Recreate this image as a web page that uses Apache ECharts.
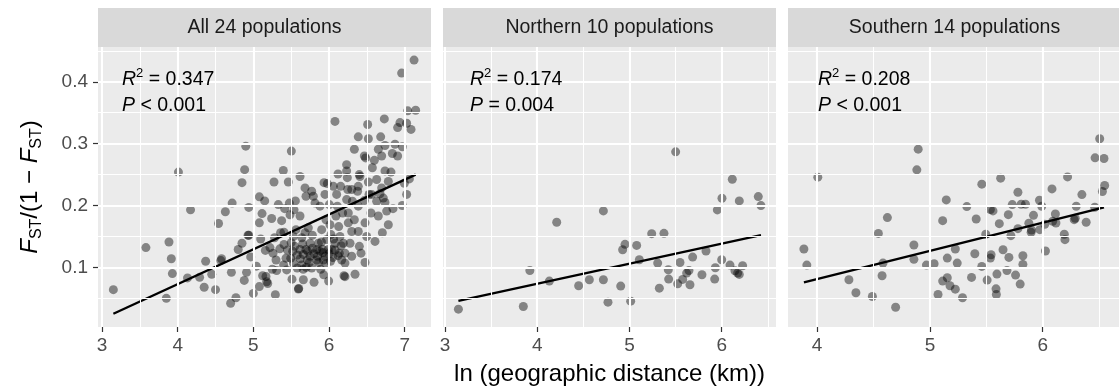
<!DOCTYPE html>
<html><head><meta charset="utf-8">
<script src="https://cdn.jsdelivr.net/npm/echarts@6/dist/echarts.min.js"></script>
<style>html,body{margin:0;padding:0;background:#fff}#c{width:1119px;height:392px}</style>
</head><body><div id="c"></div>
<script>
// ---------------- DATA ----------------
const panelTitles = ['All 24 populations', 'Northern 10 populations', 'Southern 14 populations'];
const statsR2 = ['0.347', '0.174', '0.208'];
const statsP = ['< 0.001', '= 0.004', '< 0.001'];
const xTickLabels = [[3, 4, 5, 6, 7], [3, 4, 5, 6], [4, 5, 6]];
const yTickLabels = [0.1, 0.2, 0.3, 0.4];
const xTitle = 'ln (geographic distance (km))';

const allPts = [
 [3.15,0.064],[3.58,0.132],[3.85,0.050],[3.885,0.141],[3.916,0.114],[3.93,0.090],[4.01,0.254],[4.13,0.083],[4.17,0.193],[4.29,0.084],
 [4.35,0.068],[4.37,0.110],[4.45,0.089],[4.50,0.064],[4.54,0.171],[4.57,0.111],[4.58,0.114],[4.63,0.190],[4.70,0.042],[4.71,0.092],
 [4.72,0.204],[4.77,0.051],[4.80,0.129],[4.85,0.237],[4.85,0.139],[4.88,0.079],[4.885,0.258],[4.90,0.296],[4.91,0.092],[4.94,0.197],
 [4.94,0.152],[4.93,0.152],[4.965,0.117],[5.00,0.058],
 [5.04,0.102],[5.079,0.069],[5.079,0.214],[5.15,0.2075],[5.115,0.187],[5.079,0.172],[5.097,0.146],[5.159,0.1275],[5.167,0.0854],[5.176,0.0768],
 [5.123,0.0865],[5.242,0.179],[5.273,0.238],[5.291,0.056],[5.30,0.112],[5.308,0.095],[5.33,0.2015],[5.374,0.1756],[5.396,0.2566],[5.405,0.137],
 [5.405,0.157],[5.414,0.195],[5.432,0.115],[5.441,0.096],[5.462,0.238],[5.476,0.204],[5.485,0.185],[5.494,0.115],[5.502,0.288],[5.511,0.081],
 [5.529,0.150],[5.538,0.193],[5.547,0.134],[5.556,0.2075],[5.564,0.161],[5.595,0.065],[5.617,0.247],[5.617,0.183],[5.617,0.129],[5.639,0.104],
 [5.652,0.138],[5.661,0.080],[5.683,0.2285],[5.683,0.156],[5.696,0.215],[5.696,0.129],[5.714,0.112],[5.727,0.164],[5.749,0.139],[5.771,0.223],
 [5.771,0.099],[5.793,0.215],[5.802,0.076],[5.815,0.204],[5.837,0.129],[5.837,0.112],[5.859,0.139],[5.881,0.199],[5.89,0.097],[5.903,0.161],
 [5.916,0.129],[5.925,0.112],[5.934,0.237],[5.947,0.218],[5.96,0.177],[5.969,0.145],[5.978,0.2355],[5.991,0.129],[5.995,0.078],[6.004,0.2015],
 [6.013,0.169],[6.026,0.153],[6.035,0.129],[6.057,0.231],[6.079,0.336],[6.079,0.139],[6.092,0.183],[6.101,0.218],[6.11,0.199],[6.119,0.251],
 [6.128,0.166],[6.136,0.123],[6.145,0.150],[6.154,0.231],[6.167,0.112],[6.18,0.188],[6.189,0.139],[6.198,0.0865],[6.233,0.2096],[6.255,0.172],
 [5.19,0.074],[5.60,0.066],
 [5.35,0.130],[5.45,0.128],[5.50,0.140],[5.58,0.120],[5.62,0.114],[5.66,0.121],[5.72,0.126],[5.75,0.118],[5.78,0.131],[5.80,0.122],
 [5.85,0.118],[5.88,0.126],[5.92,0.124],[5.95,0.118],[6.00,0.122],[6.05,0.116],[6.08,0.128],[6.12,0.119],[5.53,0.107],[5.58,0.099],
 [5.70,0.100],[5.74,0.108],[5.86,0.108],[5.96,0.106],[6.02,0.110],[5.26,0.123],[5.22,0.132],[5.28,0.148],[5.36,0.156],[5.64,0.148],
 [5.78,0.152],[5.90,0.141],[6.06,0.146],[6.16,0.135],[5.25,0.097],[5.40,0.104],[5.52,0.126],[5.66,0.097],[5.93,0.088],
 [7.124,0.435],[6.96,0.414],[7.04,0.353],[7.145,0.354],[7.084,0.323],[7.026,0.333],[6.938,0.334],[6.907,0.326],[6.731,0.340],[6.511,0.331],
 [6.387,0.311],[6.52,0.308],[6.683,0.311],[6.335,0.291],[6.467,0.280],[6.484,0.277],[6.652,0.291],[6.74,0.297],[6.872,0.299],[6.969,0.295],
 [6.907,0.280],[6.837,0.284],[6.696,0.280],[6.599,0.273],[6.573,0.261],[6.74,0.256],[6.819,0.254],[6.63,0.242],[6.784,0.239],[6.996,0.236],
 [7.062,0.243],[6.52,0.238],[6.409,0.247],[6.387,0.231],[6.233,0.266],[6.233,0.256],[6.529,0.218],[6.674,0.219],[6.718,0.212],[6.74,0.205],
 [6.846,0.195],[7.026,0.218],[6.969,0.200],[6.784,0.169],[6.705,0.156],[6.608,0.142],[6.476,0.108],[6.344,0.089],[6.423,0.123],[6.498,0.150],
 [6.387,0.158],[6.335,0.177],[6.255,0.188],[6.247,0.226],[6.63,0.207],[6.555,0.188],[6.652,0.183],[6.762,0.191],[6.30,0.158],[6.278,0.139],
 [6.401,0.134],[6.211,0.123],[6.30,0.118],[6.211,0.107],[6.211,0.085],[6.467,0.208],[6.40,0.250],[6.378,0.223],[6.387,0.199],[6.476,0.172],
 [6.564,0.218],[6.696,0.2285],[6.30,0.226],[6.309,0.207],[6.242,0.245]
];

const northPts = [
 [3.145,0.0325],[3.849,0.0368],[3.92,0.0951],[4.131,0.0779],[4.211,0.1729],[4.449,0.0703],[4.565,0.080],[4.717,0.080],[4.717,0.1913],[4.767,0.0438],
 [4.905,0.0698],[4.926,0.1286],[4.952,0.1373],[5.013,0.0455],[5.078,0.1356],[5.107,0.1124],[5.241,0.1545],[5.306,0.107],[5.324,0.0665],[5.374,0.1551],
 [5.421,0.0962],[5.425,0.0811],[5.501,0.2868],[5.523,0.0735],[5.548,0.108],[5.577,0.0806],[5.620,0.0908],[5.645,0.0951],[5.656,0.0719],[5.685,0.1167],
 [5.786,0.0881],[5.830,0.1265],[5.924,0.0811],[5.931,0.0995],[5.953,0.1929],[6.0,0.1124],[6.003,0.2118],[6.090,0.1038],[6.115,0.2425],[6.144,0.0946],
 [6.173,0.0908],[6.191,0.0887],[6.191,0.2075],[6.227,0.1027],[6.397,0.2145],[6.426,0.1999]
];

const southPts = [
 [3.883,0.1297],[3.909,0.1038],[4.006,0.2458],[4.282,0.080],[4.344,0.059],[4.490,0.053],[4.543,0.155],[4.584,0.107],[4.576,0.0865],[4.623,0.1805],
 [4.696,0.0357],[4.858,0.1362],[4.858,0.113],[4.884,0.2577],[4.896,0.2911],[4.969,0.1038],[5.037,0.106],[5.072,0.0563],[5.113,0.1756],[5.113,0.0779],
 [5.145,0.2091],[5.154,0.0833],[5.154,0.1151],[5.178,0.0703],[5.225,0.0649],[5.225,0.1297],[5.242,0.107],[5.289,0.0509],[5.327,0.1983],[5.369,0.0838],
 [5.398,0.1221],[5.410,0.1783],[5.460,0.1016],[5.460,0.2345],[5.495,0.1535],[5.507,0.0795],[5.536,0.1151],[5.542,0.1205],[5.536,0.1934],[5.559,0.1913],
 [5.586,0.0654],[5.589,0.0563],[5.594,0.0892],[5.615,0.1707],[5.627,0.2442],[5.648,0.1286],[5.683,0.0951],[5.695,0.1853],[5.700,0.1162],[5.718,0.1513],
 [5.730,0.2015],[5.759,0.0876],[5.780,0.2215],[5.780,0.1626],[5.800,0.073],[5.809,0.2021],[5.824,0.1189],[5.824,0.1049],[5.847,0.2021],[5.877,0.1713],
 [5.897,0.1567],[5.900,0.1605],[5.918,0.1842],[5.971,0.2085],[5.974,0.161],[5.991,0.1988],[6.024,0.1265],[6.018,0.1697],[6.082,0.2269],[6.088,0.1745],
 [6.112,0.1864],[6.117,0.1718],[6.191,0.1535],[6.197,0.1448],[6.220,0.2463],[6.279,0.1772],[6.288,0.1794],[6.297,0.1988],[6.347,0.2177],[6.385,0.1729],
 [6.461,0.1972],[6.464,0.2771],[6.505,0.3079],[6.543,0.276],[6.529,0.2226],[6.549,0.2323]
];

// regression line end points
const allFit = [[3.15,0.025],[7.145,0.250]];
const northFit = [[3.145,0.046],[6.426,0.152]];
const southFit = [[3.883,0.0757],[6.543,0.1972]];

// ---------------- LAYOUT ----------------
const FONT = "'Liberation Sans', Arial, Helvetica, sans-serif";
const panelLeft = [98, 443, 788];
const panelTop = 47, panelW = 333, panelH = 280, stripTop = 8;
const xRanges = [[2.947,7.348],[2.978,6.589],[3.742,6.676]];
const yRange = [0.0037, 0.4562];
const gridStep = 0.5, yStep = 0.05;
const pts = [allPts, northPts, southPts];
const fits = [allFit, northFit, southFit];
const annX = [122, 470, 818];

function gridValues(min, max, step) {
  const out = [];
  for (let v = Math.ceil(min / step) * step; v <= max + 1e-9; v += step) out.push(Math.round(v * 1000) / 1000);
  return out;
}

const grids = [], xAxes = [], yAxes = [], series = [], graphics = [];
for (let i = 0; i < 3; i++) {
  grids.push({left: panelLeft[i], top: panelTop, width: panelW, height: panelH, show: true,
    backgroundColor: '#EBEBEB', borderWidth: 0});
  xAxes.push({gridIndex: i, type: 'value', min: xRanges[i][0], max: xRanges[i][1],
    axisLine: {show: false}, splitLine: {show: false},
    axisTick: {show: true, customValues: xTickLabels[i], length: 5, lineStyle: {color: '#333333', width: 1.2}},
    axisLabel: {customValues: xTickLabels[i], margin: 9, color: '#4D4D4D', fontSize: 19, fontFamily: FONT}});
  yAxes.push({gridIndex: i, type: 'value', min: yRange[0], max: yRange[1],
    axisLine: {show: false}, splitLine: {show: false},
    axisTick: {show: i === 0, customValues: yTickLabels, length: 5, lineStyle: {color: '#333333', width: 1.2}},
    axisLabel: {show: i === 0, customValues: yTickLabels, margin: 10, color: '#4D4D4D', fontSize: 19, fontFamily: FONT,
      formatter: v => v.toFixed(1)}});
  // grid lines
  const ml = [];
  gridValues(xRanges[i][0], xRanges[i][1], gridStep).forEach(v => {
    const major = Math.abs(v - Math.round(v)) < 1e-6;
    ml.push({xAxis: v, lineStyle: {color: '#FFFFFF', width: major ? 2.1 : 1.05, type: 'solid'}});
  });
  gridValues(yRange[0], yRange[1], yStep).forEach(v => {
    const major = Math.abs(v * 10 - Math.round(v * 10)) < 1e-6;
    ml.push({yAxis: v, lineStyle: {color: '#FFFFFF', width: major ? 2.1 : 1.05, type: 'solid'}});
  });
  series.push({type: 'line', xAxisIndex: i, yAxisIndex: i, data: [], z: 1, silent: true,
    markLine: {silent: true, symbol: ['none', 'none'], label: {show: false}, animation: false,
      lineStyle: {type: 'solid', color: '#fff'}, emphasis: {disabled: true}, data: ml}});
  series.push({type: 'scatter', xAxisIndex: i, yAxisIndex: i, data: pts[i], symbolSize: 9, z: 3,
    itemStyle: {color: 'rgba(0,0,0,0.55)'}, silent: true});
  series.push({type: 'line', xAxisIndex: i, yAxisIndex: i, data: fits[i], symbol: 'none', z: 4,
    lineStyle: {color: '#000', width: 2.3}, silent: true});
  // strips
  graphics.push({type: 'rect', shape: {x: panelLeft[i], y: stripTop, width: panelW, height: panelTop - stripTop},
    style: {fill: '#D9D9D9'}, silent: true, z: 0});
  graphics.push({type: 'text', x: panelLeft[i] + panelW / 2, y: (stripTop + panelTop) / 2 + 0.5,
    style: {text: panelTitles[i], fill: '#1A1A1A', fontSize: 19.5, fontFamily: FONT, align: 'center', verticalAlign: 'middle'}, z: 10});
  // annotation
  graphics.push({type: 'text', x: annX[i], y: 67, z: 10,
    style: {text: '{i|R}{sup|2}{n| = ' + statsR2[i] + '}\n{i|P}{n| ' + statsP[i] + '}',
      align: 'left', verticalAlign: 'top',
      rich: {
        i: {fontStyle: 'italic', fontSize: 19.5, fontFamily: FONT, fill: '#000', lineHeight: 26},
        n: {fontSize: 19.5, fontFamily: FONT, fill: '#000', lineHeight: 26},
        sup: {fontSize: 13, fontFamily: FONT, fill: '#000', lineHeight: 15, verticalAlign: 'top'}
      }}});
}
// axis titles
graphics.push({type: 'text', x: (panelLeft[0] + panelLeft[2] + panelW) / 2, y: 374, z: 10,
  style: {text: xTitle, fill: '#000', fontSize: 24, fontFamily: FONT, align: 'center', verticalAlign: 'middle'}});
graphics.push({type: 'text', x: 30, y: panelTop + panelH / 2, rotation: Math.PI / 2, z: 10,
  style: {text: '{f|F}{s|ST}{n|/(1 − }{f|F}{s|ST}{n|)}', align: 'center', verticalAlign: 'middle',
    rich: {
      f: {fontStyle: 'italic', fontSize: 24, fontFamily: FONT, fill: '#000', lineHeight: 30},
      n: {fontSize: 24, fontFamily: FONT, fill: '#000', lineHeight: 30},
      s: {fontSize: 16, fontFamily: FONT, fill: '#000', lineHeight: 18, verticalAlign: 'bottom'}
    }}});

const chart = echarts.init(document.getElementById('c'), null, {renderer: 'canvas'});
chart.setOption({animation: false, grid: grids, xAxis: xAxes, yAxis: yAxes, series: series, graphic: graphics});
</script></body></html>
